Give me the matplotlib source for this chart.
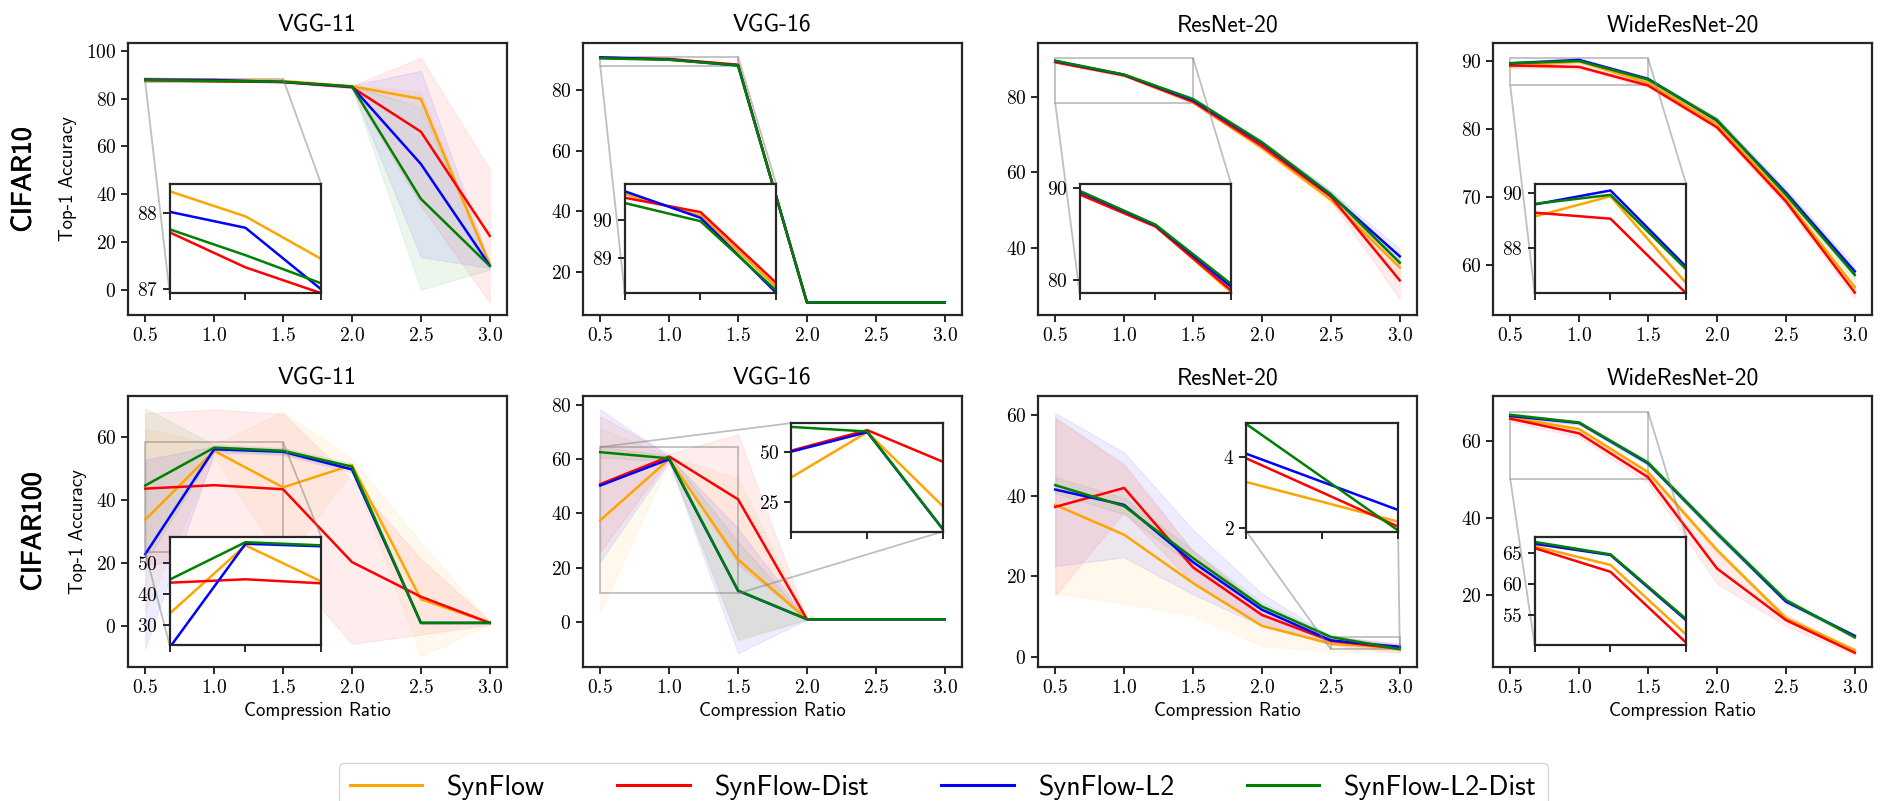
import numpy as np
import matplotlib
matplotlib.use("Agg")
import matplotlib.pyplot as plt
import matplotlib.ticker as mticker
import matplotlib.patheffects as pe
from mpl_toolkits.axes_grid1.inset_locator import mark_inset

plt.rcParams['font.family'] = 'cmss10'
plt.rcParams['mathtext.fontset'] = 'cm'
plt.rcParams['axes.unicode_minus'] = False

# compression ratios
x = [0.5, 1.0, 1.5, 2.0, 2.5, 3.0]

methods = ['SynFlow', 'SynFlow-Dist', 'SynFlow-L2', 'SynFlow-L2-Dist']
colors = ['orange', 'red', 'blue', 'green']
models = ['VGG-11', 'VGG-16', 'ResNet-20', 'WideResNet-20']
datasets = ['CIFAR10', 'CIFAR100']

# ---- CIFAR10 means / stds (order: SynFlow, Dist, L2, L2-Dist) ----
c10_vgg11 = [[88.29, 87.96, 87.40, 85.2, 79.9, 10.5],
             [87.75, 87.29, 86.95, 84.8, 66.2, 22.6],
             [88.02, 87.81, 87.00, 85.0, 52.7, 10.2],
             [87.79, 87.45, 87.08, 85.1, 38.1, 10.0]]
c10_vgg11_std = [[0.2, 0.2, 0.2, 0.5, 3, 1],
                 [0.2, 0.2, 0.2, 0.6, 31, 28],
                 [0.2, 0.2, 0.2, 0.5, 39, 1],
                 [0.2, 0.2, 0.2, 0.5, 38, 1.5]]

c10_vgg16 = [[90.70, 90.13, 88.25, 10.0, 10.0, 10.0],
             [90.60, 90.22, 88.35, 10.0, 10.0, 10.0],
             [90.77, 90.07, 88.09, 10.0, 10.0, 10.0],
             [90.46, 89.98, 88.15, 10.0, 10.0, 10.0]]
c10_vgg16_std = [[0.2, 0.2, 0.2, 0, 0, 0]] * 4

c10_res20 = [[89.4, 85.8, 78.6, 66.5, 52.7, 34.7],
             [89.3, 85.8, 78.8, 67.0, 53.6, 31.3],
             [89.6, 85.95, 79.2, 67.8, 54.0, 37.7],
             [89.7, 86.0, 79.5, 68.0, 54.2, 36.0]]
c10_res20_std = [[0.3, 0.3, 0.4, 0.6, 1.0, 2.0],
                 [0.3, 0.3, 0.4, 0.6, 1.0, 5.0],
                 [0.3, 0.3, 0.4, 0.6, 1.0, 2.0],
                 [0.3, 0.3, 0.4, 0.6, 1.0, 1.5]]

c10_wrn20 = [[89.16, 89.90, 86.72, 80.7, 69.6, 56.7],
             [89.30, 89.08, 86.35, 80.2, 69.3, 55.9],
             [89.60, 90.11, 87.32, 81.2, 70.6, 59.0],
             [89.62, 89.95, 87.23, 81.3, 70.3, 58.5]]
c10_wrn20_std = [[0.3, 0.3, 0.3, 0.4, 0.6, 0.8]] * 4

# ---- CIFAR100 ----
c100_vgg11 = [[33.7, 55.6, 44.0, 51.1, 8.5, 1.0],
              [43.6, 44.7, 43.4, 20.3, 9.3, 1.0],
              [22.8, 56.1, 55.3, 49.7, 1.0, 1.0],
              [44.6, 56.6, 55.6, 50.6, 1.0, 1.0]]
c100_vgg11_std = [[29, 2, 24, 2, 18, 0.5],
                  [24, 24, 24, 26, 12, 0.5],
                  [30, 1, 1, 1, 0.3, 0.2],
                  [24.5, 1, 1, 1, 0.3, 0.2]]

c100_vgg16 = [[37.5, 60.0, 23.0, 1.0, 1.0, 1.0],
              [50.8, 61.0, 45.2, 1.0, 1.0, 1.0],
              [50.3, 60.0, 11.5, 1.0, 1.0, 1.0],
              [62.6, 60.3, 11.6, 1.0, 1.0, 1.0]]
c100_vgg16_std = [[34, 1, 30, 0.1, 0, 0],
                  [25, 1, 24, 0.1, 0, 0],
                  [28, 1, 23, 0.1, 0, 0],
                  [2, 1, 18, 0.1, 0, 0]]

c100_res20 = [[37.7, 30.3, 18.3, 7.7, 3.30, 2.18],
              [37.2, 41.9, 22.2, 10.4, 3.97, 2.04],
              [41.5, 37.7, 23.5, 11.7, 4.10, 2.51],
              [42.6, 37.4, 24.5, 12.5, 4.94, 1.93]]
c100_res20_std = [[22, 17, 8, 5, 2, 1],
                  [22, 6, 4, 2, 1, 1],
                  [19, 13, 8, 4, 1, 0.8],
                  [2, 2, 2, 1, 0.5, 0.3]]

c100_wrn20 = [[66.1, 63.1, 51.9, 31.7, 14.0, 5.7],
              [65.8, 62.0, 50.6, 26.9, 13.5, 5.0],
              [66.5, 64.7, 54.2, 36.0, 18.3, 9.4],
              [66.8, 64.8, 54.4, 36.1, 18.7, 9.0]]
c100_wrn20_std = [[0.5, 0.5, 0.6, 0.8, 0.6, 0.4],
                  [0.8, 1.0, 1.5, 4.0, 1.5, 0.7],
                  [0.5, 0.5, 0.6, 0.8, 0.6, 0.4],
                  [0.5, 0.5, 0.6, 0.8, 0.6, 0.4]]

means = [[c10_vgg11, c10_vgg16, c10_res20, c10_wrn20],
         [c100_vgg11, c100_vgg16, c100_res20, c100_wrn20]]
stds = [[c10_vgg11_std, c10_vgg16_std, c10_res20_std, c10_wrn20_std],
        [c100_vgg11_std, c100_vgg16_std, c100_res20_std, c100_wrn20_std]]

# axis limits and ticks
main_ylim = [[(-10.5, 103.3), (5.9, 95.5), (22.1, 94.4), (52.6, 92.6)],
             [(-13.0, 73.0), (-16.6, 83.3), (-2.5, 64.7), (1.3, 71.7)]]
main_yticks = [[[0, 20, 40, 60, 80, 100], [20, 40, 60, 80], [40, 60, 80], [60, 70, 80, 90]],
               [[0, 20, 40, 60], [0, 20, 40, 60, 80], [0, 20, 40, 60], [20, 40, 60]]]
ins_xlim = [[(0.5, 1.5)] * 4,
            [(0.5, 1.5), (0.5, 1.5), (2.5, 3.0), (0.5, 1.5)]]
ins_ylim = [[(86.95, 88.38), (88.08, 90.95), (78.5, 90.4), (86.36, 90.33)],
            [(23.5, 58.3), (10.5, 64.5), (1.9, 4.97), (50.2, 67.6)]]
ins_yticks = [[[87, 88], [89, 90], [80, 90], [88, 90]],
              [[30, 40, 50], [25, 50], [2, 4], [55, 60, 65]]]
ins_pos = [[[0.11, 0.08, 0.4, 0.4]] * 4,
           [[0.11, 0.08, 0.4, 0.4], [0.55, 0.5, 0.4, 0.4], [0.55, 0.5, 0.4, 0.4], [0.11, 0.08, 0.4, 0.4]]]
ins_locs = [[(1, 3)] * 4,
            [(1, 3), (2, 4), (3, 4), (1, 3)]]

fig = plt.figure(figsize=(18.87, 8.01), dpi=100)
W, H = 1887, 801
lefts = [128, 583, 1038, 1493]
tops = [43, 396]
heights = [272, 271]
spine_col = '#262626'

# computer-modern digits for the tick labels
yfmt = mticker.FuncFormatter(lambda v, p: r'$%g$' % v)
xfmt = mticker.FuncFormatter(lambda v, p: r'$%.1f$' % v)


def style(a):
    for s in a.spines.values():
        s.set_linewidth(1.6)
        s.set_color(spine_col)
    a.tick_params(direction='out', length=5, width=1.4, color=spine_col,
                  labelsize=14, labelcolor='black')
    a.yaxis.set_major_formatter(yfmt)


lines = []
for r in range(2):
    for c in range(4):
        ax = fig.add_axes([lefts[c] / W, 1 - (tops[r] + heights[r]) / H, 379 / W, heights[r] / H])
        m_all = means[r][c]
        s_all = stds[r][c]
        axins = ax.inset_axes(ins_pos[r][c])
        for k in range(4):
            m = np.array(m_all[k])
            s = np.array(s_all[k])
            ax.fill_between(x, m - s, m + s, color=colors[k], alpha=0.07, lw=0.8)
            ln, = ax.plot(x, m, color=colors[k], lw=1.8, label=methods[k])
            axins.plot(x, m, color=colors[k], lw=1.8)
            if r == 0 and c == 0:
                lines.append(ln)
        ax.set_ylim(main_ylim[r][c])
        ax.set_yticks(main_yticks[r][c])
        ax.set_xticks(x)
        ax.set_title(models[c], fontsize=17, pad=8)
        style(ax)
        ax.xaxis.set_major_formatter(xfmt)
        if c == 0:
            ax.set_ylabel('Top-1 Accuracy', fontsize=13.5, labelpad=6)
        if r == 1:
            ax.set_xlabel('Compression Ratio', fontsize=13.5)

        axins.set_xlim(ins_xlim[r][c])
        axins.set_ylim(ins_ylim[r][c])
        axins.set_yticks(ins_yticks[r][c])
        x0, x1 = ins_xlim[r][c]
        axins.set_xticks([x0, (x0 + x1) / 2, x1])
        style(axins)
        axins.set_xticklabels([])
        mark_inset(ax, axins, loc1=ins_locs[r][c][0], loc2=ins_locs[r][c][1],
                   fc='none', ec='0.5', alpha=0.5, lw=1.3)

bold = [pe.withStroke(linewidth=0.5, foreground='black')]
fig.text(23 / W, 1 - 180 / H, datasets[0], rotation=90, ha='center', va='center',
         fontsize=20, path_effects=bold)
fig.text(33 / W, 1 - 532 / H, datasets[1], rotation=90, ha='center', va='center',
         fontsize=20, path_effects=bold)

leg = fig.legend(lines, methods, loc='upper center', bbox_to_anchor=(0.5, 1 - 763 / H),
                 ncol=4, fontsize=20, handlelength=2.6, handletextpad=0.9,
                 columnspacing=2.6, borderaxespad=0, frameon=True)
for h in leg.get_lines():
    h.set_linewidth(2.2)

fig.savefig('out.png', dpi=100)
